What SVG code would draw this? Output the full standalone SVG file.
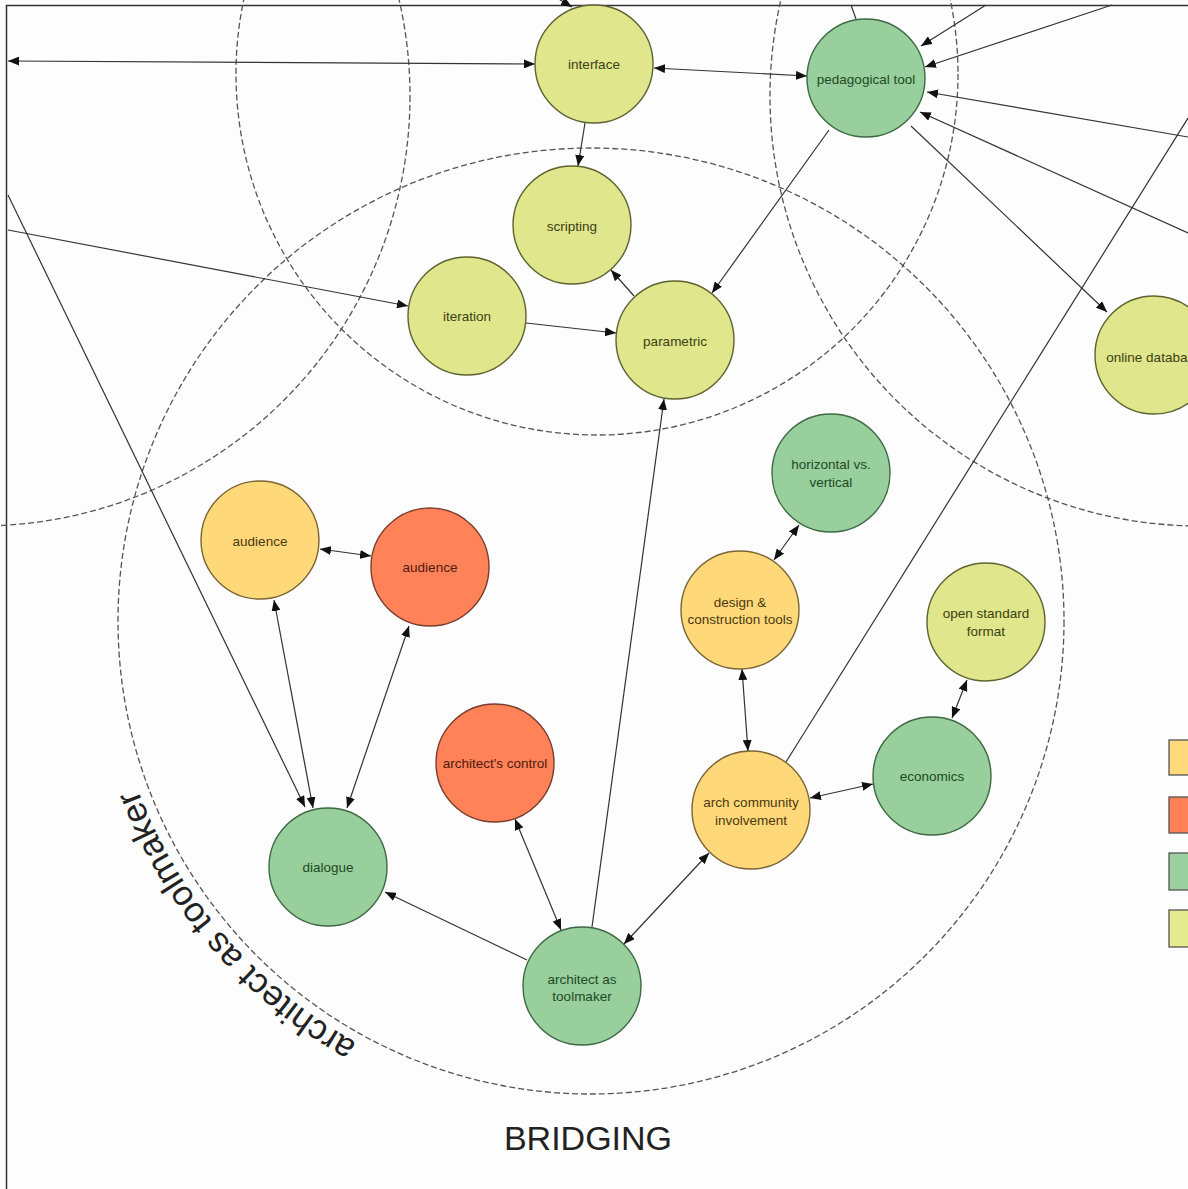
<svg xmlns="http://www.w3.org/2000/svg" width="1188" height="1189" viewBox="0 0 1188 1189">
  <defs>
    <marker id="ah" viewBox="0 0 11 9" refX="11" refY="4.5" markerWidth="11" markerHeight="9" markerUnits="userSpaceOnUse" orient="auto-start-reverse">
      <path d="M0,0 L11,4.5 L0,9 z" fill="#111"/>
    </marker>
    <path id="arcText" d="M356.9,1042.8 A484,484 0 0 1 108.8,662.8"/>
  </defs>
  <style>
    .frame { fill: none; stroke: #333; stroke-width: 1.5; }
    .zone { fill: none; stroke: #555; stroke-width: 1.3; stroke-dasharray: 6 3; }
    .edge { fill: none; stroke: #333; stroke-width: 1.2; }
    .one { marker-end: url(#ah); }
    .two { marker-start: url(#ah); marker-end: url(#ah); }
    .node circle { stroke-width: 1.4; }
    .node text { font-family: "Liberation Sans", Arial, sans-serif; font-size: 13.5px; text-anchor: middle; dominant-baseline: central; }
    .lime circle { fill: #dfe68b; stroke: #5d6330; }
    .lime text { fill: #3b3f12; }
    .green circle { fill: #98cf9c; stroke: #3d6a44; }
    .green text { fill: #1d4a24; }
    .gold circle { fill: #ffd87a; stroke: #7a6535; }
    .gold text { fill: #4a3810; }
    .coral circle { fill: #ff8259; stroke: #7a3d2c; }
    .coral text { fill: #4e1a0e; }
    .key { stroke: #555; stroke-width: 1.3; }
    .title { font-family: "Liberation Sans", Arial, sans-serif; fill: #222; }
  </style>

  <rect x="0" y="0" width="1188" height="1189" fill="#fdfdfd"/>
  <path class="frame" d="M6.5,1189 V5.5 H1188"/>

  <!-- dashed zones -->
  <g id="zones">
    <circle class="zone" cx="597" cy="74" r="361"/>
    <circle class="zone" cx="-20" cy="96" r="430"/>
    <circle class="zone" cx="1200" cy="96" r="430"/>
    <circle class="zone" cx="591" cy="621" r="473"/>
  </g>

  <!-- connectors -->
  <g id="connectors">
    <line class="edge two" x1="8" y1="61" x2="535" y2="64"/>
    <line class="edge two" x1="654" y1="68" x2="807" y2="76"/>
    <line class="edge one" x1="585" y1="123" x2="578" y2="166"/>
    <line class="edge one" x1="557" y1="-2" x2="572" y2="7"/>
    <line class="edge" x1="851" y1="5" x2="856" y2="19"/>
    <line class="edge one" x1="986" y1="5" x2="921" y2="46"/>
    <line class="edge one" x1="1112" y1="5" x2="925" y2="67"/>
    <line class="edge one" x1="1188" y1="137" x2="927" y2="92"/>
    <line class="edge one" x1="1188" y1="233" x2="920" y2="112"/>
    <line class="edge one" x1="911" y1="126" x2="1107" y2="312"/>
    <line class="edge one" x1="829" y1="130" x2="712" y2="293"/>
    <line class="edge one" x1="8" y1="195" x2="305" y2="807"/>
    <line class="edge one" x1="8" y1="230" x2="408" y2="306"/>
    <line class="edge one" x1="526" y1="323" x2="616" y2="333"/>
    <line class="edge one" x1="634" y1="296" x2="611" y2="270"/>
    <line class="edge one" x1="592" y1="927" x2="664" y2="399"/>
    <line class="edge two" x1="320" y1="549" x2="371" y2="556"/>
    <line class="edge two" x1="274" y1="600" x2="313" y2="808"/>
    <line class="edge two" x1="409" y1="626" x2="347" y2="808"/>
    <line class="edge two" x1="515" y1="819" x2="561" y2="930"/>
    <line class="edge one" x1="527" y1="960" x2="385" y2="892"/>
    <line class="edge two" x1="624" y1="944" x2="709" y2="853"/>
    <line class="edge two" x1="799" y1="525" x2="774" y2="560"/>
    <line class="edge two" x1="742" y1="669" x2="748" y2="751"/>
    <line class="edge two" x1="810" y1="798" x2="873" y2="784"/>
    <line class="edge two" x1="967" y1="680" x2="952" y2="718"/>
    <line class="edge" x1="786" y1="762" x2="1188" y2="118"/>
  </g>

  <!-- nodes -->
  <g id="interface" class="node lime"><circle cx="594" cy="64" r="59"/><text x="594" y="64">interface</text></g>
  <g id="pedagogical-tool" class="node green"><circle cx="866" cy="78" r="59"/><text x="866" y="79">pedagogical tool</text></g>
  <g id="scripting" class="node lime"><circle cx="572" cy="225" r="59"/><text x="572" y="226">scripting</text></g>
  <g id="iteration" class="node lime"><circle cx="467" cy="316" r="59"/><text x="467" y="316">iteration</text></g>
  <g id="parametric" class="node lime"><circle cx="675" cy="340" r="59"/><text x="675" y="341">parametric</text></g>
  <g id="online-database" class="node lime"><circle cx="1154" cy="355" r="59"/><text x="1154" y="357">online database</text></g>
  <g id="horizontal-vs-vertical" class="node green"><circle cx="831" cy="473" r="59"/><text x="831" y="464">horizontal vs.</text><text x="831" y="482">vertical</text></g>
  <g id="audience-1" class="node gold"><circle cx="260" cy="540" r="59"/><text x="260" y="541">audience</text></g>
  <g id="audience-2" class="node coral"><circle cx="430" cy="567" r="59"/><text x="430" y="567">audience</text></g>
  <g id="design-construction-tools" class="node gold"><circle cx="740" cy="610" r="59"/><text x="740" y="602">design &amp;</text><text x="740" y="619">construction tools</text></g>
  <g id="open-standard-format" class="node lime"><circle cx="986" cy="622" r="59"/><text x="986" y="613">open standard</text><text x="986" y="631">format</text></g>
  <g id="architects-control" class="node coral"><circle cx="495" cy="763" r="59"/><text x="495" y="763">architect's control</text></g>
  <g id="arch-community-involvement" class="node gold"><circle cx="751" cy="810" r="59"/><text x="751" y="802">arch community</text><text x="751" y="820">involvement</text></g>
  <g id="economics" class="node green"><circle cx="932" cy="776" r="59"/><text x="932" y="776">economics</text></g>
  <g id="dialogue" class="node green"><circle cx="328" cy="867" r="59"/><text x="328" y="867">dialogue</text></g>
  <g id="architect-as-toolmaker" class="node green"><circle cx="582" cy="986" r="59"/><text x="582" y="979">architect as</text><text x="582" y="996">toolmaker</text></g>

  <!-- legend swatches -->
  <g id="legend">
    <rect class="key" x="1169" y="740" width="30" height="35" fill="#ffd97c"/>
    <rect class="key" x="1169" y="797" width="30" height="36" fill="#ff8158"/>
    <rect class="key" x="1169" y="853" width="30" height="37" fill="#9bd19e"/>
    <rect class="key" x="1169" y="910" width="30" height="37" fill="#e4ea8e"/>
  </g>

  <!-- zone labels -->
  <text class="title" font-size="35"><textPath href="#arcText">architect as toolmaker</textPath></text>
  <text class="title" x="588" y="1150" font-size="34" text-anchor="middle">BRIDGING</text>
</svg>
